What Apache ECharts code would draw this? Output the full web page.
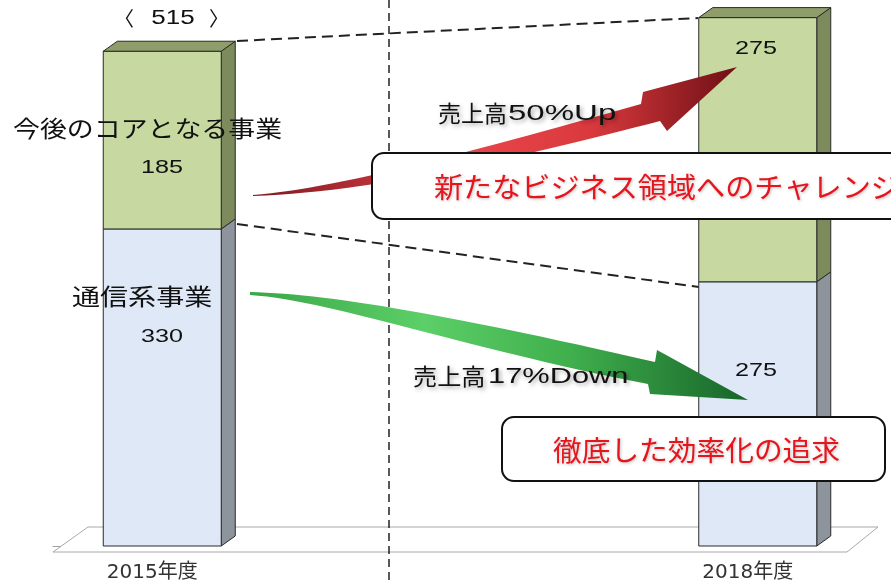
<!DOCTYPE html>
<html lang="ja">
<head>
    <meta charset="utf-8">
    <script src="https://cdn.jsdelivr.net/npm/echarts@6/dist/echarts.min.js"></script>
    <title></title>
    <style>html,body{margin:0;padding:0;background:#fff;}</style>
</head>
<body>
<div id="main" style="width: 891px;height:584px;"></div>
<script type="text/javascript">
    // 年度（間の2つは空欄）
    var years = ['2015年度', '', '', '2018年度'];
    var telecom = [330, null, null, 275];   // 通信系事業
    var core = [185, null, null, 275];      // 今後のコアとなる事業

    var jp = '"Noto Sans CJK JP", sans-serif';
    var num = '"Liberation Sans", Arial, sans-serif';

    // 積み上げの下端・上端を作る
    var barData = [];
    for (var i = 0; i < years.length; i++) {
        if (telecom[i] == null) continue;
        barData.push([i, 0, telecom[i], 0]);
        barData.push([i, telecom[i], telecom[i] + core[i], 1]);
    }

    var faceColor = ['#dfe8f6', '#c7d8a0'];
    var sideColor = ['#8e949c', '#7d8a5c'];
    var topColor = ['#a9b0b8', '#8f9d6a'];

    function renderBar(params, api) {
        var x = api.value(0), lo = api.value(1), hi = api.value(2), k = api.value(3);
        var p0 = api.coord([x, lo]);
        var p1 = api.coord([x, hi]);
        var w = 118, dx = 14, dy = -10;
        var cx = p0[0] + 10;
        var l = cx - w / 2, r = cx + w / 2, yb = p0[1], yt = p1[1];
        var line = {stroke: '#2a2a2a', lineWidth: 1};
        var kids = [
            {type: 'polygon', shape: {points: [[r, yb], [r + dx, yb + dy], [r + dx, yt + dy], [r, yt]]},
                style: Object.assign({fill: sideColor[k]}, line)},
            {type: 'rect', shape: {x: l, y: yt, width: w, height: yb - yt},
                style: Object.assign({fill: faceColor[k]}, line)}
        ];
        if (k === 1) {
            kids.push({type: 'polygon', shape: {points: [[l, yt], [l + dx, yt + dy], [r + dx, yt + dy], [r, yt]]},
                style: Object.assign({fill: topColor[k]}, line)});
        }
        return {type: 'group', children: kids};
    }

    // 3次ベジェの点列（矢印の輪郭用）
    function bez(a, b, c, d, n) {
        var pts = [];
        for (var j = 0; j <= n; j++) {
            var t = j / n, u = 1 - t;
            pts.push([
                u * u * u * a[0] + 3 * u * u * t * b[0] + 3 * u * t * t * c[0] + t * t * t * d[0],
                u * u * u * a[1] + 3 * u * u * t * b[1] + 3 * u * t * t * c[1] + t * t * t * d[1]
            ]);
        }
        return pts;
    }

    var redPts = bez([253, 195], [340, 188], [470, 152], [641, 104], 30)
        .concat([[643, 92], [737, 67], [667, 131]])
        .concat(bez([660, 121], [540, 152], [380, 192], [253, 196], 30));
    var greenPts = bez([250, 292], [330, 294], [450, 315], [655, 362], 30)
        .concat([[657, 350], [748, 400], [650, 394]])
        .concat(bez([648, 384], [470, 350], [330, 300], [250, 295], 30));

    // 横に伸ばした文字
    function txt(x, y, s, font, sx, opt) {
        var st = Object.assign({text: s, fill: '#111', font: font, verticalAlign: 'middle'}, opt || {});
        return {type: 'text', z: 8, x: x, y: y, scaleX: sx, style: st};
    }

    var myChart = echarts.init(document.getElementById('main'));

    var redGrad = new echarts.graphic.LinearGradient(0, 0, 1, 0, [
        {offset: 0, color: '#7e1a20'},
        {offset: 0.45, color: '#e8454a'},
        {offset: 0.7, color: '#d9393d'},
        {offset: 1, color: '#6e1015'}
    ]);
    var greenGrad = new echarts.graphic.LinearGradient(0, 0, 1, 0, [
        {offset: 0, color: '#3aa646'},
        {offset: 0.35, color: '#5ccf68'},
        {offset: 0.65, color: '#3fae4c'},
        {offset: 1, color: '#17652a'}
    ]);

    var shadow = {textShadowColor: 'rgba(0,0,0,0.35)', textShadowBlur: 4, textShadowOffsetX: 2, textShadowOffsetY: 2};
    var glow = {fill: '#e8141c', textShadowColor: 'rgba(0,0,0,0.25)', textShadowBlur: 3, textShadowOffsetX: 1, textShadowOffsetY: 1};
    var mid = {align: 'center'};

    var labels = [
        txt(124, 18, '〈', '20px ' + jp, 1, mid),
        txt(173, 18, String(telecom[0] + core[0]), '20px ' + num, 1.3, mid),
        txt(219, 18, '〉', '20px ' + jp, 1, mid),
        txt(13, 128, '今後のコアとなる事業', '23px ' + jp, 1.17),
        txt(162, 168, String(core[0]), '18px ' + num, 1.4, mid),
        txt(72, 296, '通信系事業', '23px ' + jp, 1.22),
        txt(162, 337, String(telecom[0]), '18px ' + num, 1.4, mid),
        txt(756, 49, String(core[3]), '18px ' + num, 1.4, mid),
        txt(756, 371, String(telecom[3]), '18px ' + num, 1.4, mid)
    ];
    var arrowText = [
        txt(438, 113, '売上高', '23px ' + jp, 1, shadow),
        txt(508, 114, '50%Up', '22px ' + num, 1.5, shadow),
        txt(413, 376, '売上高', '23px ' + jp, 1.05, shadow),
        txt(488, 377, '17%Down', '22px ' + num, 1.4, shadow)
    ];
    arrowText.forEach(function (t) { t.z = 11; });

    option = {
        animation: false,
        grid: {left: 53, right: 44, top: 8, bottom: 38},
        xAxis: {
            type: 'category',
            data: years,
            offset: 6,
            axisLine: {lineStyle: {color: '#a0a0a0', width: 1}},
            axisTick: {length: 5, lineStyle: {color: '#a0a0a0'}},
            axisLabel: {color: '#333', fontSize: 20, fontFamily: '"DejaVu Sans", "Noto Sans CJK JP", sans-serif', margin: 11}
        },
        yAxis: {type: 'value', min: 0, max: 560, show: false},
        series: [{
            type: 'custom',
            renderItem: renderBar,
            data: barData,
            z: 5
        }],
        graphic: [
            // 床
            {type: 'polygon', z: 1, shape: {points: [[53, 552], [88, 527], [878, 527], [847, 552]]},
                style: {fill: '#fff', stroke: '#a8a8a8', lineWidth: 1}},
            // 縦の破線
            {type: 'line', z: 3, shape: {x1: 389, y1: 0, x2: 389, y2: 584},
                style: {stroke: '#222', lineWidth: 1.5, lineDash: [8, 5]}},
            // 接続の破線
            {type: 'line', z: 3, shape: {x1: 237, y1: 41, x2: 698, y2: 18},
                style: {stroke: '#222', lineWidth: 2, lineDash: [11, 6]}},
            {type: 'line', z: 3, shape: {x1: 237, y1: 224, x2: 699, y2: 287},
                style: {stroke: '#222', lineWidth: 2, lineDash: [11, 6]}},
            // 矢印
            {type: 'polygon', z: 10, shape: {points: redPts}, style: {fill: redGrad}},
            {type: 'polygon', z: 10, shape: {points: greenPts}, style: {fill: greenGrad}},
            // 吹き出し
            {type: 'rect', z: 12, shape: {x: 372, y: 153, width: 580, height: 66, r: 12},
                style: {fill: '#fff', stroke: '#111', lineWidth: 2}},
            Object.assign(txt(434, 187, '新たなビジネス領域へのチャレンジ', '28px ' + jp, 1.04, glow), {z: 13}),
            {type: 'rect', z: 12, shape: {x: 502, y: 417, width: 383, height: 64, r: 12},
                style: {fill: '#fff', stroke: '#111', lineWidth: 2}},
            Object.assign(txt(553, 450, '徹底した効率化の追求', '28px ' + jp, 1.025, glow), {z: 13})
        ].concat(arrowText).concat(labels)
    };

    myChart.setOption(option);
</script>
</body>
</html>
